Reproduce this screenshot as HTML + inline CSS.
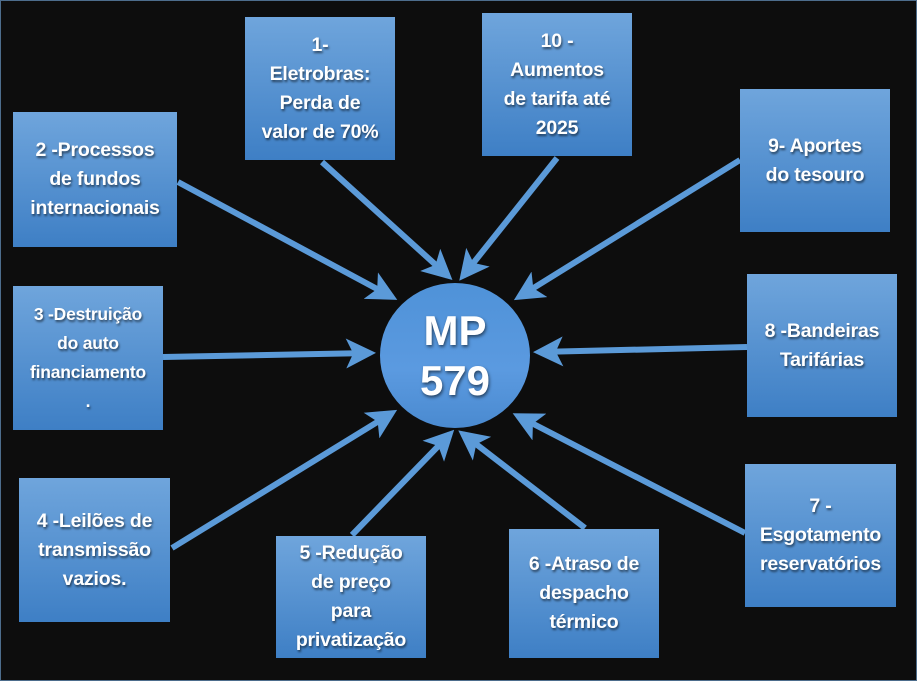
<!DOCTYPE html>
<html><head><meta charset="utf-8"><style>
html,body{margin:0;padding:0}
body{width:917px;height:681px;background:#0d0d0d;position:relative;overflow:hidden;font-family:"Liberation Sans",sans-serif}
.frame{position:absolute;left:0;top:0;width:915px;height:679px;border:1px solid #4d6d8c}
.b{position:absolute;display:flex;align-items:center;justify-content:center;text-align:center;color:#fff;font-weight:bold;font-size:19.5px;line-height:29px;background:linear-gradient(#6fa5dc,#3e7fc5);text-shadow:1px 2px 2px rgba(0,0,0,.55);box-sizing:border-box;letter-spacing:-0.2px}
svg{position:absolute;left:0;top:0}
.c{position:absolute;left:380px;top:283px;width:150px;height:145px;border-radius:50%;background:linear-gradient(#4f92d8,#5b9ae0 60%,#4a8ad0);color:#fff;font-weight:bold;font-size:42px;line-height:50px;display:flex;align-items:center;justify-content:center;text-align:center;text-shadow:1px 2px 3px rgba(0,0,0,.55)}
</style></head><body>
<div class="frame"></div>
<svg width="917" height="681">
<defs><marker id="a" markerWidth="5" markerHeight="5" refX="4" refY="2.5" orient="auto" markerUnits="strokeWidth"><path d="M0,0 L5,2.5 L0,5 L1.2,2.5 Z" fill="#5b9ad8"/></marker></defs>
<g stroke="#5b9ad8" stroke-width="6" marker-end="url(#a)">
<line x1="322" y1="162" x2="448" y2="276"/>
<line x1="557" y1="158" x2="463" y2="276"/>
<line x1="178" y1="182" x2="392" y2="297"/>
<line x1="740" y1="160" x2="519" y2="297"/>
<line x1="163" y1="357" x2="370" y2="353"/>
<line x1="747" y1="347" x2="539" y2="352"/>
<line x1="172" y1="548" x2="392" y2="413"/>
<line x1="352" y1="535" x2="450" y2="434"/>
<line x1="585" y1="528" x2="463" y2="434"/>
<line x1="745" y1="533" x2="518" y2="416"/>
</g>
</svg>
<div class="c">MP<br>579</div>
<div class="b" style="left:245px;top:17px;width:150px;height:143px">1-<br>Eletrobras:<br>Perda de<br>valor de 70%</div>
<div class="b" style="left:482px;top:13px;width:150px;height:143px">10 -<br>Aumentos<br>de tarifa até<br>2025</div>
<div class="b" style="left:13px;top:112px;width:164px;height:135px">2 -Processos<br>de fundos<br>internacionais</div>
<div class="b" style="left:740px;top:89px;width:150px;height:143px">9- Aportes<br>do tesouro</div>
<div class="b" style="left:13px;top:286px;width:150px;height:144px;font-size:17.5px">3 -Destruição<br>do auto<br>financiamento<br>.</div>
<div class="b" style="left:747px;top:274px;width:150px;height:143px">8 -Bandeiras<br>Tarifárias</div>
<div class="b" style="left:19px;top:478px;width:151px;height:144px">4 -Leilões de<br>transmissão<br>vazios.</div>
<div class="b" style="left:276px;top:536px;width:150px;height:122px">5 -Redução<br>de preço<br>para<br>privatização</div>
<div class="b" style="left:509px;top:529px;width:150px;height:129px">6 -Atraso de<br>despacho<br>térmico</div>
<div class="b" style="left:745px;top:464px;width:151px;height:143px">7 -<br>Esgotamento<br>reservatórios</div>
</body></html>
